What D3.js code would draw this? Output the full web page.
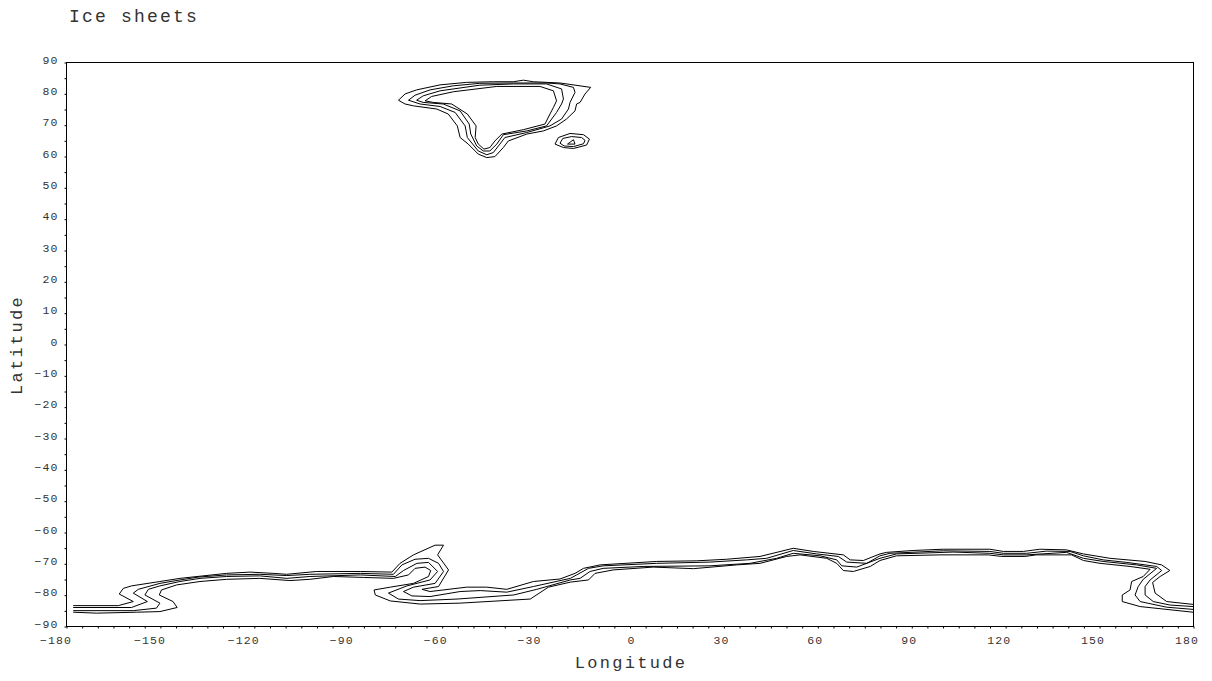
<!DOCTYPE html>
<html>
<head>
<meta charset="utf-8">
<script src="https://cdn.jsdelivr.net/npm/d3@7"></script>
<style>
  html, body { margin: 0; padding: 0; background: #fff; }
  svg { opacity: 0.999; }
  text { font-family: "Liberation Mono", monospace; fill: #333; }
</style>
</head>
<body>
<svg id="chart" width="1212" height="681"></svg>
<script>
// contour lines as [longitude, latitude]
const greenland1 = [[-73.8,77.8],[-71.7,79.8],[-68,81.1],[-60.5,82.7],[-52,83.5],[-43.5,83.7],[-37.1,83.7],[-33.9,84.2],[-30.7,83.7],[-22.2,83.3],[-12.4,81.9],[-14.2,79.8],[-15.8,77.1],[-16.9,76.6],[-17.4,74.4],[-20.1,71.8],[-23.3,69.6],[-27.5,68],[-32.8,67],[-38.7,64.8],[-40.3,62.7],[-43,59.8],[-45.6,59.5],[-48.3,60.6],[-51.5,63.8],[-54.1,65.9],[-55,69.6],[-57.9,73.4],[-61.6,75],[-69,76],[-71.7,76.6],[-73.8,77.8]];
const greenland2 = [[-70.6,77.8],[-68.5,79.4],[-63.7,81.1],[-56.3,82.4],[-47.8,83.2],[-37.1,83.3],[-26.5,83.3],[-22.2,83],[-17.9,81.9],[-17.4,80.3],[-19,77.1],[-19.5,75],[-21.7,71.8],[-25.4,69.6],[-32.8,67.5],[-39.8,65.9],[-41.4,63.8],[-43.5,61.1],[-45.6,60.4],[-48.3,61.6],[-51.8,65.9],[-52.5,69.6],[-55.7,73.9],[-60.5,75.8],[-66.9,76.6],[-70.6,77.8]];
const greenland3 = [[-68,77.8],[-65.9,79.2],[-60.5,80.8],[-47.8,82.6],[-37.1,83],[-26.5,83],[-21.7,81.4],[-21.1,78.2],[-21.7,76.6],[-23.3,73.9],[-26.5,69.6],[-32.8,68],[-40.3,66.8],[-42.4,63.8],[-44.6,61.6],[-46.7,61.6],[-48.8,63.2],[-50.7,67],[-51.2,70.2],[-54.1,74.4],[-59.5,76.6],[-65.9,77.1],[-68,77.8]];
const greenland4 = [[-65.3,77.6],[-63.2,79],[-56.3,80.5],[-42.4,82.2],[-28.6,82.2],[-24.3,80.8],[-23.3,77.6],[-24.3,75.5],[-25.4,73.4],[-27,70.2],[-33.9,68.4],[-40.8,67],[-43,64.8],[-44.6,62.7],[-46.5,62.2],[-48.3,63.8],[-49.3,65.9],[-49,69.6],[-51.8,73.4],[-56.8,76.6],[-62.7,77.1],[-65.3,77.6]];
const iceland1 = [[-23.8,63.8],[-22.7,65.9],[-19,67.2],[-14.7,66.8],[-12.8,65.4],[-13.7,63.5],[-17.9,62.4],[-21.1,62.7],[-23.8,63.8]];
const iceland2 = [[-22.2,64.1],[-21.3,65.6],[-18.5,66.2],[-15.3,65.9],[-14.2,65],[-14.7,63.9],[-17.9,63],[-20.9,63.2],[-22.2,64.1]];
const iceland3 = [[-19.8,63.8],[-17.9,65.2],[-17.4,63.8],[-19.8,63.8]];
const antarctica1 = [[-177.7,-83.5],[-163.3,-83.5],[-158.5,-82.2],[-163,-79.8],[-161.7,-78],[-159.1,-77.2],[-150,-75.8],[-143.6,-74.8],[-128.7,-73.2],[-121.2,-72.8],[-113.8,-73.2],[-109.5,-73.5],[-102.1,-72.8],[-99.9,-72.6],[-86,-72.6],[-75.9,-72.8],[-73.3,-70],[-69,-67.3],[-62.1,-64.2],[-59.4,-64.2],[-61.3,-67.3],[-57.8,-72.1],[-61,-77.4],[-66.3,-78.3],[-63.7,-79],[-52,-77.6],[-45.6,-77.6],[-39.2,-78.3],[-30.7,-75.8],[-22.2,-75],[-17.4,-73.2],[-14.7,-71.6],[-9.4,-70.5],[8.7,-69.4],[21.5,-69.2],[31,-68.7],[41.7,-67.8],[52.3,-65.2],[58.7,-66.2],[68.3,-67.3],[70.5,-68.9],[74.7,-69.1],[80,-67],[82.1,-66.5],[90.6,-65.9],[100.2,-65.5],[115.1,-65.5],[119.4,-66.2],[125.8,-66.2],[131.1,-65.5],[139.6,-65.7],[145,-67],[153.5,-68.4],[164.7,-69.4],[170,-70.5],[172.6,-72.3],[169.5,-74.2],[167.1,-76.1],[167.9,-79.5],[171.6,-82.2],[180,-83.1]];
const antarctica2 = [[-177.7,-84.1],[-159.1,-84.1],[-154,-82.2],[-158.5,-79.5],[-156.9,-78.3],[-150,-76.4],[-143.6,-75.3],[-137.8,-74.4],[-128.7,-73.7],[-118.1,-73.5],[-109.5,-73.9],[-102.1,-73.5],[-86,-73.2],[-75.4,-73.5],[-72.7,-70.5],[-68.5,-68.7],[-64.2,-68.4],[-61,-70],[-59.4,-72.6],[-62.1,-76.4],[-69,-77.6],[-72.2,-79],[-69.5,-80.4],[-63.7,-80.6],[-54.1,-79],[-47.7,-78.7],[-39.2,-79.2],[-30.7,-77.4],[-18.9,-74.8],[-16.9,-73.7],[-13.1,-71.6],[-8.4,-70.8],[8.7,-70],[25.7,-69.6],[37.4,-68.9],[43.8,-68.4],[52.3,-65.9],[59.8,-67],[66.7,-67.8],[69.4,-69.6],[75.8,-70],[80,-67.6],[83.2,-66.8],[100.2,-66],[115.1,-66.2],[119.4,-66.8],[126.9,-66.8],[133.2,-66.1],[140.7,-66.2],[145,-67.6],[151.3,-68.9],[158.8,-69.7],[168.4,-71],[170,-72.3],[166.3,-75.3],[164.7,-77.4],[164.7,-80.1],[167.3,-82.2],[172.6,-83.3],[180,-83.8]];
const antarctica3 = [[-177.7,-85.1],[-158.5,-85.1],[-151.1,-84.3],[-150,-82.7],[-154.8,-80.1],[-153.7,-78.3],[-150,-77.2],[-143.6,-75.8],[-137.2,-74.8],[-128.7,-74.2],[-118.1,-74],[-109.5,-74.8],[-102.1,-74.2],[-86,-73.7],[-74.8,-74.2],[-72.2,-72.3],[-67.9,-70],[-64.2,-69.7],[-61.3,-72.6],[-63.7,-75.3],[-71.1,-77.2],[-77,-79.5],[-73.8,-81.4],[-66.9,-81.9],[-55.1,-81.4],[-37,-80.1],[-29.6,-78.3],[-18.9,-75.3],[-15.8,-74.8],[-12.6,-72.6],[-8.4,-71.6],[4.4,-71],[25.7,-70.8],[38.5,-70],[47,-68.4],[52.3,-66.8],[60.9,-67.6],[66.2,-68.9],[67.8,-70.8],[72.6,-71.2],[80,-68.4],[85.3,-67],[103.4,-66.4],[115.1,-66.8],[119.4,-67.3],[126.9,-67.3],[139.6,-66.5],[145,-68.4],[151.3,-69.4],[162,-70.5],[168.4,-71.6],[164.1,-75.1],[162.5,-77.4],[161.5,-80.1],[163.1,-82.2],[171.6,-84],[180,-84.7]];
const antarctica4 = [[-177.7,-85.6],[-170.2,-85.9],[-157.5,-85.6],[-150,-85.4],[-144.5,-84.1],[-145.8,-82.2],[-150.2,-80.1],[-149.5,-78.5],[-144.7,-76.9],[-137.2,-75.8],[-128.7,-75.1],[-118.1,-74.8],[-108.5,-75.5],[-102.1,-75.1],[-94.6,-74.2],[-85,-74.5],[-75.4,-74.8],[-70.6,-73.7],[-68.5,-71.6],[-65.3,-71.2],[-63.5,-72.3],[-64.2,-74.2],[-69,-76.4],[-76.4,-77.6],[-81.6,-78.5],[-81.2,-80.1],[-76.4,-82],[-66.9,-83],[-54.1,-82.7],[-31.7,-81.4],[-25.9,-77.6],[-18.9,-76],[-13.1,-75.3],[-11,-73.2],[-5.2,-72.1],[7.6,-71.2],[20.4,-71.7],[34.2,-70.5],[41.7,-70],[50.2,-67.8],[54.5,-67.3],[63,-68.4],[66.2,-70],[68.3,-72.3],[71.5,-72.6],[76.9,-71],[80,-69.1],[85.3,-67.6],[99.2,-67.3],[114.6,-67.3],[118.9,-67.8],[126.3,-67.8],[130,-67.3],[141.2,-67.3],[145,-69.1],[150.3,-70],[159.9,-71],[166.3,-71.9],[164.1,-74.2],[160.4,-75.8],[159.9,-78.5],[157.4,-80.1],[157.4,-82.2],[163.1,-83.8],[180,-85.6]];

const contours = [greenland1, greenland2, greenland3, greenland4, iceland1, iceland2, iceland3, antarctica1, antarctica2, antarctica3, antarctica4];

const lonTicks = [-180, -150, -120, -90, -60, -30, 0, 30, 60, 90, 120, 150, 180];
const lonMinor = d3.range(-180, 181, 5);
const latTicks = [90, 80, 70, 60, 50, 40, 30, 20, 10, 0, -10, -20, -30, -40, -50, -60, -70, -80, -90];
const latMinor = d3.range(-90, 91, 5);

const left = 66, right = 1193, top_ = 62, bottom = 626;

const svg = d3.select("#chart");
const x = d3.scaleLinear().domain([-180, 180]).range([left, right]);
const y = d3.scaleLinear().domain([-90, 90]).range([bottom, top_]);

// frame
svg.append("rect")
    .attr("x", left + 0.5)
    .attr("y", top_ + 0.5)
    .attr("width", right - left)
    .attr("height", bottom - top_)
    .attr("fill", "none")
    .attr("stroke", "black")
    .attr("stroke-width", 1);

// short outward ticks, labels come from the major axes
const xMinorAxis = d3.axisBottom(x).tickValues(lonMinor).tickSize(2).tickFormat("");
const yMinorAxis = d3.axisLeft(y).tickValues(latMinor).tickSize(2).tickFormat("");
const xAxis = d3.axisBottom(x).tickValues(lonTicks).tickSize(0).tickPadding(9);
const yAxis = d3.axisLeft(y).tickValues(latTicks).tickSize(0).tickPadding(8);

[xMinorAxis, xAxis].forEach(axis => {
    const g = svg.append("g").attr("transform", `translate(0.5,${bottom + 0.5})`).call(axis);
    g.select(".domain").remove();
});
[yMinorAxis, yAxis].forEach(axis => {
    const g = svg.append("g").attr("transform", `translate(${left + 0.5},0.5)`).call(axis);
    g.select(".domain").remove();
});
svg.selectAll("g.tick line").attr("stroke", "black");
svg.selectAll("g.tick text")
    .attr("font-family", null)
    .style("font-size", "11.5px")
    .style("letter-spacing", "1.1px");
// the original labels end just past their tick rather than centring on it
svg.selectAll("g.tick text")
    .filter(function() { return +this.getAttribute("y") > 0; })
    .attr("text-anchor", "end")
    .attr("dx", 5);
svg.selectAll("g.tick text")
    .filter(function() { return +this.getAttribute("x") < 0; })
    .attr("dy", "0.05em");

const line = d3.line().x(d => x(d[0])).y(d => y(d[1]));
svg.selectAll("path.contour")
    .data(contours)
    .join("path")
    .attr("class", "contour")
    .attr("d", line)
    .attr("fill", "none")
    .attr("stroke", "black")
    .attr("stroke-width", 1);

// title and axis titles
svg.append("text")
    .attr("x", 69)
    .attr("y", 22)
    .style("font-size", "18px")
    .style("letter-spacing", "2.2px")
    .text("Ice sheets");

svg.append("text")
    .attr("x", 631)
    .attr("y", 668)
    .attr("text-anchor", "middle")
    .style("font-size", "17px")
    .style("letter-spacing", "2.3px")
    .text("Longitude");

svg.append("text")
    .attr("transform", "translate(22,345) rotate(-90)")
    .attr("text-anchor", "middle")
    .style("font-size", "17px")
    .style("letter-spacing", "2.3px")
    .text("Latitude");
</script>
</body>
</html>
